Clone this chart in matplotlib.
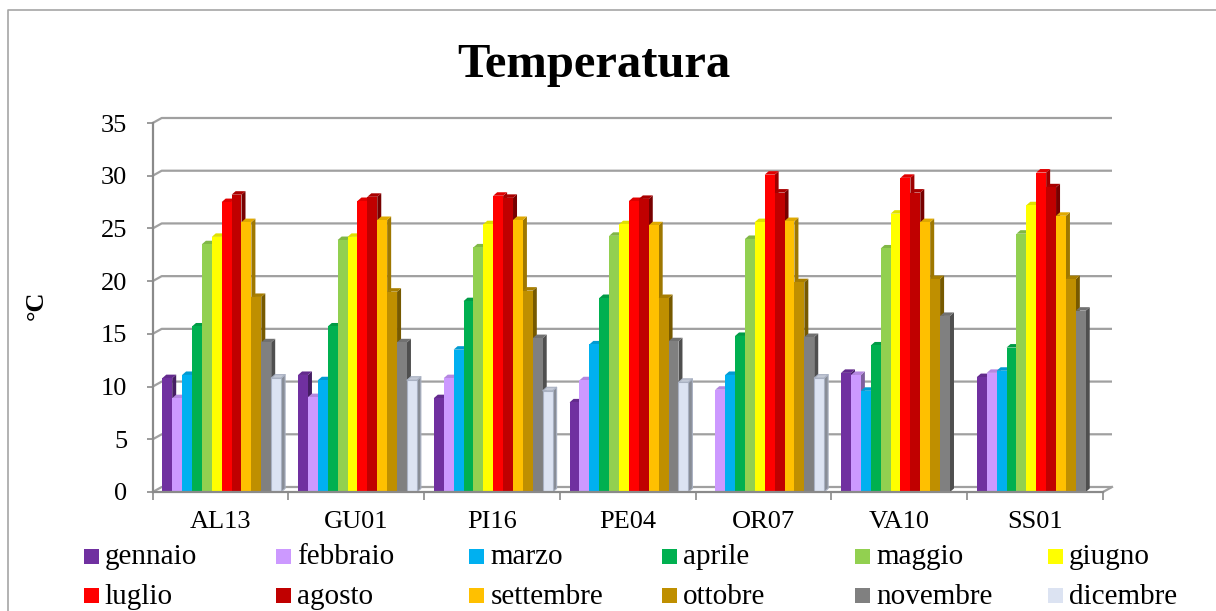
import numpy as np
import matplotlib
matplotlib.use('Agg')
import matplotlib.pyplot as plt
from matplotlib.collections import PolyCollection
from matplotlib.patches import Rectangle
from matplotlib.lines import Line2D
from matplotlib.colors import to_rgb

# Data (monthly mean temperature, degC)
stazioni = ['AL13', 'GU01', 'PI16', 'PE04', 'OR07', 'VA10', 'SS01']
mesi = ['gennaio', 'febbraio', 'marzo', 'aprile', 'maggio', 'giugno',
        'luglio', 'agosto', 'settembre', 'ottobre', 'novembre', 'dicembre']
nan = np.nan
AL13 = [10.8, 8.9, 11.1, 15.7, 23.5, 24.2, 27.5, 28.2, 25.6, 18.5, 14.2, 10.8]
GU01 = [11.1, 9.0, 10.6, 15.7, 23.9, 24.2, 27.6, 28.0, 25.8, 19.0, 14.2, 10.6]
PI16 = [8.9, 10.8, 13.5, 18.1, 23.2, 25.4, 28.1, 27.9, 25.8, 19.1, 14.6, 9.6]
PE04 = [8.5, 10.6, 14.0, 18.4, 24.3, 25.4, 27.6, 27.8, 25.3, 18.4, 14.3, 10.4]
OR07 = [nan, 9.7, 11.1, 14.8, 24.0, 25.6, 30.1, 28.4, 25.7, 19.9, 14.7, 10.8]
VA10 = [11.3, 11.1, 9.6, 13.9, 23.1, 26.4, 29.8, 28.4, 25.6, 20.2, 16.7, nan]
SS01 = [10.9, 11.3, 11.5, 13.7, 24.5, 27.2, 30.3, 28.9, 26.2, 20.2, 17.2, nan]
yticks = [0, 5, 10, 15, 20, 25, 30, 35]

colori = ['#7030A0', '#CC99FF', '#00B0F0', '#00B050', '#92D050', '#FFFF00',
          '#FF0000', '#C00000', '#FFC000', '#BF8F00', '#808080', '#DCE3F2']

valori = np.array([AL13, GU01, PI16, PE04, OR07, VA10, SS01])  # (station, month)

W_PX, H_PX = 1216, 611
fig = plt.figure(figsize=(W_PX / 100, H_PX / 100), dpi=100)
font = 'Liberation Serif'
gridc = '#A0A0A0'
axc = '#8A8A8A'

# axes: front plane of the 3D chart
left, right, bottom, top = 152.7, 1103, 492, 123
ax = fig.add_axes([left / W_PX, 1 - bottom / H_PX, (right - left) / W_PX, (bottom - top) / H_PX])
ax.set_xlim(-0.5, len(stazioni) - 0.5)
ax.set_ylim(0, 35)
xpu = (right - left) / len(stazioni)   # pixels per x unit
ypu = (bottom - top) / 35.0            # pixels per y unit

# back wall / floor depth and bar depth (pixels -> data)
gdx, gdy = 9 / xpu, 5 / ypu
bdx, bdy = 4 / xpu, 3.5 / ypu

x0, x1 = -0.5, len(stazioni) - 0.5
for v in yticks:
    ax.plot([x0, x0 + gdx, x1 + gdx], [v, v + gdy, v + gdy], color=gridc, lw=1.6,
            clip_on=False, zorder=1, solid_capstyle='butt')
ax.plot([x1, x1 + gdx], [0, gdy], color=gridc, lw=1.6, clip_on=False, zorder=1)

# bars with simple 3D faces
bar_w = 9.9 / xpu
off0 = 9.6 / xpu
xs = np.arange(len(stazioni))
for j, mese in enumerate(mesi):
    h = valori[:, j]
    ok = ~np.isnan(h)
    xl = xs[ok] - 0.5 + off0 + j * bar_w
    hh = h[ok]
    c = np.array(to_rgb(colori[j]))
    sides, tops = [], []
    for a, b in zip(xl, hh):
        xr = a + bar_w
        sides.append([(xr, 0), (xr + bdx, bdy), (xr + bdx, b + bdy), (xr, b)])
        tops.append([(a, b), (a + bdx, b + bdy), (xr + bdx, b + bdy), (xr, b)])
    z = 5 + 3 * j
    ec = '#A9B1C2' if j == 11 else 'none'
    ax.add_collection(PolyCollection(sides, facecolors=[c * 0.62], edgecolors=ec,
                                     linewidths=0.8, zorder=z))
    ax.add_collection(PolyCollection(tops, facecolors=[c * 0.88], edgecolors=ec,
                                     linewidths=0.8, zorder=z + 1))
    ax.bar(xl, hh, width=bar_w, align='edge', color=colori[j], edgecolor=ec,
           linewidth=0.8, zorder=z + 2)

for s in ['top', 'right']:
    ax.spines[s].set_visible(False)
for s in ['left', 'bottom']:
    ax.spines[s].set_color(axc)
    ax.spines[s].set_linewidth(1.6)
    ax.spines[s].set_zorder(50)

ax.set_yticks(yticks)
ax.set_yticklabels([str(v) for v in yticks], fontsize=19, family=font)
ax.tick_params(axis='y', length=4.5, width=1.2, color=axc, pad=14)
ax.set_xticks(np.arange(len(stazioni) + 1) - 0.5)
ax.set_xticklabels([])
ax.set_xticks(xs, minor=True)
ax.set_xticklabels(stazioni, minor=True, fontsize=19, family=font)
ax.tick_params(axis='x', which='major', length=6, width=1.2, color=axc)
ax.tick_params(axis='x', which='minor', length=0, pad=14)

fig.text(594 / W_PX, 1 - 77 / H_PX, 'Temperatura', ha='center', va='baseline',
         fontsize=35, fontweight='bold', family=font)
fig.text(36 / W_PX, 1 - 305 / H_PX, '°C', ha='center', va='center', rotation=90,
         fontsize=19, fontweight='bold', family=font)

# legend, laid out like the Excel one (equal column pitch)
for k, mese in enumerate(mesi):
    r, col = divmod(k, 6)
    mx = 83.5 + 192.9 * col
    my = 556.5 + 39 * r
    ec = '#A9B1C2' if k == 11 else 'none'
    fig.add_artist(Rectangle((mx / W_PX, 1 - (my + 7.5) / H_PX), 15 / W_PX, 15 / H_PX,
                             transform=fig.transFigure, facecolor=colori[k],
                             edgecolor='none'))
    fig.text((mx + 21) / W_PX, 1 - (my + 1) / H_PX, mese, ha='left', va='center',
             fontsize=21, family=font)

# chart frame
fig.add_artist(Line2D([8 / W_PX, 8 / W_PX, 1], [0, 1 - 10 / H_PX, 1 - 10 / H_PX],
                      transform=fig.transFigure, color='#A6A6A6', lw=1.2))

plt.savefig('out.png', dpi=100)
